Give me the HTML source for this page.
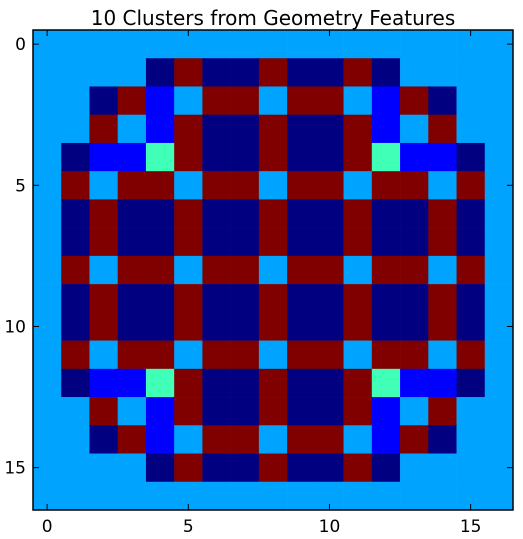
<!DOCTYPE html>
<html><head><meta charset="utf-8">
<style>
html,body{margin:0;padding:0;background:#fff;}
svg{display:block;font-family:"DejaVu Sans","Liberation Sans",sans-serif;}
</style></head>
<body>
<svg id="chart" width="523" height="539">
<text x="273" y="25" font-size="20" text-anchor="middle">10 Clusters from Geometry Features</text>
<g id="cells"></g>
<g id="axes"></g>
</svg>
<script>
// cluster ids: 0 navy, 1 blue, 3 light blue, 4 green, 9 maroon
const rowA = [3,3,3,3,3,3,3,3,3,3,3,3,3,3,3,3,3];
const rowB = [3,3,3,3,0,9,0,0,9,0,0,9,0,3,3,3,3];
const rowC = [3,3,0,9,1,3,9,9,3,9,9,3,1,9,0,3,3];
const rowD = [3,3,9,3,1,9,0,0,9,0,0,9,1,3,9,3,3];
const rowE = [3,0,1,1,4,9,0,0,9,0,0,9,4,1,1,0,3];
const rowF = [3,9,3,9,9,3,9,9,3,9,9,3,9,9,3,9,3];
const rowG = [3,0,9,0,0,9,0,0,9,0,0,9,0,0,9,0,3];
const grid = [rowA,rowB,rowC,rowD,rowE,rowF,rowG,rowG,rowF,rowG,rowG,rowF,rowE,rowD,rowC,rowB,rowA];
const clusterColors = ["#000080","#0000ff","#0050ff","#00a4ff","#40ffb6","#b6ff40","#ffc400","#ff3800","#c00000","#800000"];
const tickValues = [0,5,10,15];
const tickLabels = ["0","5","10","15"];

const L=33,R=513,T=30,B=510,N=grid.length;
const cw=(R-L)/N, ch=(B-T)/N;
const xs=v=>L+(v+0.5)*cw, ys=v=>T+(v+0.5)*ch;
const NS="http://www.w3.org/2000/svg";
const cells=document.getElementById('cells'), axes=document.getElementById('axes');
grid.forEach((row,r)=>row.forEach((c,k)=>{
  const e=document.createElementNS(NS,'rect');
  e.setAttribute('x',(xs(k)-cw/2).toFixed(2));
  e.setAttribute('y',(ys(r)-ch/2).toFixed(2));
  e.setAttribute('width',(cw+0.3).toFixed(2));
  e.setAttribute('height',(ch+0.3).toFixed(2));
  e.setAttribute('fill',clusterColors[c]);
  
  
  cells.appendChild(e);
}));
const fr=document.createElementNS(NS,'rect');
fr.setAttribute('x',L);fr.setAttribute('y',T);fr.setAttribute('width',R-L);fr.setAttribute('height',B-T);
fr.setAttribute('fill','none');fr.setAttribute('stroke','#000');fr.setAttribute('stroke-width','1.5');


axes.appendChild(fr);
function line(x1,y1,x2,y2,name){const l=document.createElementNS(NS,'line');
 l.setAttribute('x1',x1);l.setAttribute('y1',y1);l.setAttribute('x2',x2);l.setAttribute('y2',y2);
 l.setAttribute('stroke','#000');l.setAttribute('stroke-width','1');
 
 
 axes.appendChild(l);}
function text(x,y,s,anchor,name){const t=document.createElementNS(NS,'text');
 t.setAttribute('x',x);t.setAttribute('y',y);t.setAttribute('font-size','17');t.setAttribute('text-anchor',anchor);
 t.textContent=s;
 
 
 axes.appendChild(t);}
tickValues.forEach((v,i)=>{
  const x=xs(v), y=ys(v);
  line(x,B,x,B-6,'x-tick');line(x,T,x,T+6,'x-tick-top');
  line(L,y,L+6,y,'y-tick');line(R,y,R-6,y,'y-tick-right');
  text(x,B+22,tickLabels[i],'middle','x-tick-label');
  text(L-7,y+6,tickLabels[i],'end','y-tick-label');
});
</script>
</body></html>
